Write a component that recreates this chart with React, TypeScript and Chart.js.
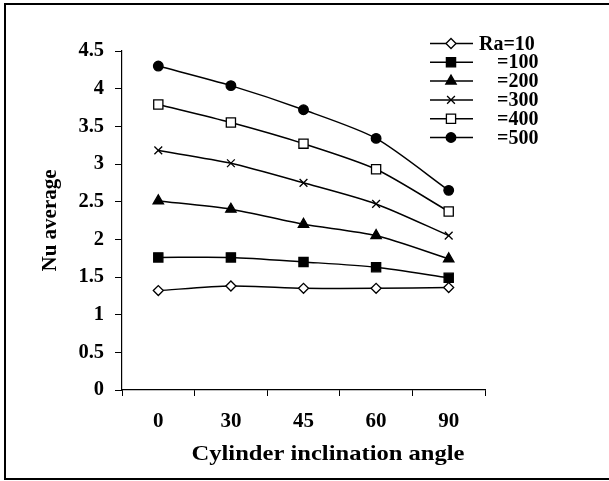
import React, { useEffect, useRef } from 'react';
import { Chart, registerables } from 'chart.js';
import { drawPoint } from 'chart.js/helpers';

Chart.register(...registerables);

const categories = ['0', '30', '45', '60', '90'];
const seriesNames = ['Ra=10', '=100', '=200', '=300', '=400', '=500'];
const ra10 = [1.32, 1.38, 1.35, 1.35, 1.36];
const ra100 = [1.76, 1.76, 1.70, 1.63, 1.49];
const ra200 = [2.51, 2.40, 2.20, 2.05, 1.74];
const ra300 = [3.18, 3.01, 2.75, 2.47, 2.05];
const ra400 = [3.79, 3.55, 3.27, 2.93, 2.37];
const ra500 = [4.30, 4.04, 3.72, 3.34, 2.65];
const yMin = 0;
const yMax = 4.5;
const yStep = 0.5;
const xTitle = 'Cylinder inclination angle';
const yTitle = 'Nu average';

const FONT = '"Liberation Serif", "Times New Roman", serif';

const seriesValues = [ra10, ra100, ra200, ra300, ra400, ra500];
const markerStyles = [
  { pointStyle: 'rectRot', radius: 5, fill: '#ffffff' },
  { pointStyle: 'rect', radius: 6.5, fill: '#000000' },
  { pointStyle: 'triangle', radius: 6, fill: '#000000' },
  { pointStyle: 'crossRot', radius: 5.5, fill: '#000000' },
  { pointStyle: 'rect', radius: 6.5, fill: '#ffffff' },
  { pointStyle: 'circle', radius: 4.8, fill: '#000000' },
];

const legendPlugin = {
  id: 'customLegend',
  afterDraw(chart: any) {
    const ctx = chart.ctx;
    ctx.save();
    chart.data.datasets.forEach((ds: any, i: number) => {
      const y = 43.5 + i * 18.8;
      ctx.strokeStyle = '#000';
      ctx.lineWidth = 1.5;
      ctx.beginPath();
      ctx.moveTo(430, y);
      ctx.lineTo(473, y);
      ctx.stroke();
      ctx.fillStyle = ds.pointBackgroundColor;
      ctx.strokeStyle = '#000';
      ctx.lineWidth = 1.3;
      drawPoint(ctx, { pointStyle: ds.pointStyle, radius: ds.pointRadius, borderWidth: 1.3, rotation: 0 } as any, 451, y);
      ctx.fillStyle = '#000';
      ctx.font = `bold 20px ${FONT}`;
      ctx.textBaseline = 'middle';
      ctx.textAlign = 'left';
      ctx.fillText(ds.label, i === 0 ? 479 : 497, y + 1);
    });
    // x axis title (slightly widened glyphs, as in the reference)
    ctx.translate(328, 455);
    ctx.scale(1.17, 1);
    ctx.font = `bold 21px ${FONT}`;
    ctx.textAlign = 'center';
    ctx.textBaseline = 'middle';
    ctx.fillStyle = '#000';
    ctx.fillText(xTitle, 0, 0);
    ctx.restore();
  },
};

export default function App() {
  const canvasRef = useRef<HTMLCanvasElement | null>(null);

  useEffect(() => {
    const canvas = canvasRef.current;
    if (!canvas) return;
    const datasets = seriesValues.map((vals, i) => ({
      label: seriesNames[i],
      data: vals,
      borderColor: '#000000',
      borderWidth: 1.5,
      backgroundColor: markerStyles[i].fill,
      pointStyle: markerStyles[i].pointStyle as any,
      pointRadius: markerStyles[i].radius,
      pointBackgroundColor: markerStyles[i].fill,
      pointBorderColor: '#000000',
      pointBorderWidth: 1.3,
      tension: 0.25,
      fill: false,
    }));

    const chart = new Chart(canvas, {
      type: 'line',
      data: { labels: categories, datasets },
      options: {
        responsive: false,
        animation: false,
        devicePixelRatio: 1,
        layout: { padding: { left: 10, right: 124, top: 51, bottom: 0 } },
        plugins: { legend: { display: false }, tooltip: { enabled: false } },
        scales: {
          x: {
            type: 'category',
            offset: true,
            grid: {
              offset: true,
              drawOnChartArea: false,
              drawTicks: true,
              tickLength: 6,
              color: '#000',
              lineWidth: 1,
            },
            border: { display: true, color: '#000', width: 1.2 },
            ticks: {
              color: '#000',
              font: { family: FONT, size: 21, weight: 'bold' },
              padding: 13,
              maxRotation: 0,
            },
            title: { display: false, text: xTitle },
            afterFit: (scale: any) => {
              scale.height = 91;
            },
          },
          y: {
            min: yMin,
            max: yMax,
            grid: {
              drawOnChartArea: false,
              drawTicks: true,
              tickLength: 7,
              color: '#000',
              lineWidth: 1,
            },
            border: { display: true, color: '#000', width: 1.2 },
            ticks: {
              stepSize: yStep,
              color: '#000',
              font: { family: FONT, size: 20.5, weight: 'bold' },
              padding: 11,
              callback: (v: any) => String(Number(v)),
            },
            title: {
              display: true,
              text: yTitle,
              color: '#000',
              font: { family: FONT, size: 21, weight: 'bold' },
              padding: { top: 28, bottom: 0 },
            },
            afterFit: (scale: any) => {
              scale.width = 112;
            },
          },
        },
      },
      plugins: [legendPlugin],
    });
    return () => chart.destroy();
  }, []);

  return (
    <div style={{ position: 'fixed', left: 0, top: 0, width: 609, height: 481, background: '#fff', overflow: 'hidden' }}>
      <canvas ref={canvasRef} width={609} height={481} style={{ position: 'absolute', left: 0, top: 0, width: 609, height: 481 }} />
      <div
        style={{
          position: 'absolute',
          left: 4,
          top: 3,
          width: 640,
          height: 477,
          borderTop: '2px solid #000',
          borderLeft: '2px solid #000',
          borderBottom: '2px solid #000',
          boxSizing: 'border-box',
          pointerEvents: 'none',
        }}
      />
    </div>
  );
}
